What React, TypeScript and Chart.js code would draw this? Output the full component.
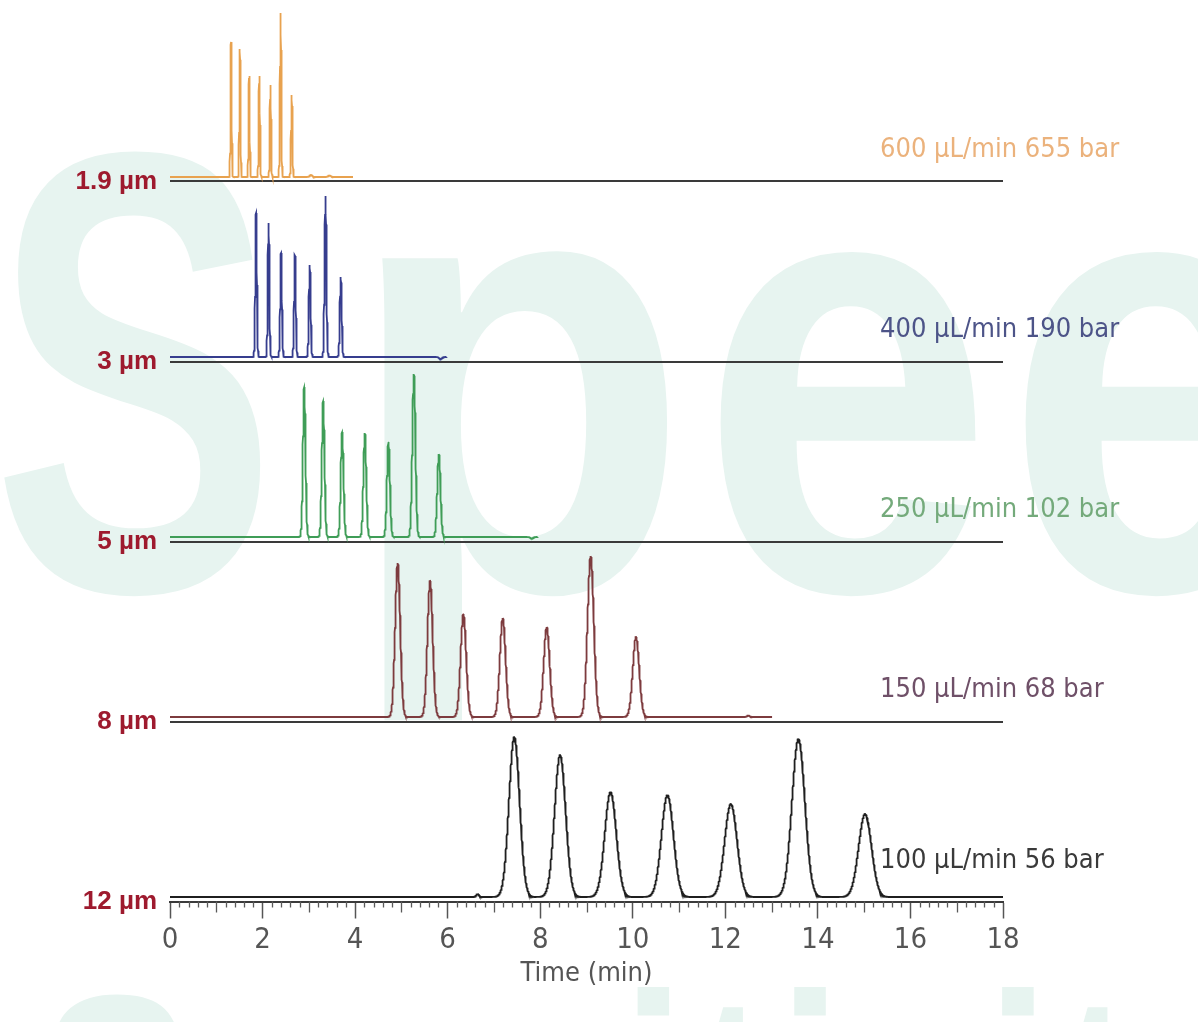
import React, { useEffect, useRef } from 'react';
import { Chart, registerables } from 'chart.js';

Chart.register(...registerables);

// Column particle size (left) and run conditions (right), top to bottom
const columnLabels = ['1.9 µm', '3 µm', '5 µm', '8 µm', '12 µm'];
const conditionLabels = [
  '600 µL/min 655 bar',
  '400 µL/min 190 bar',
  '250 µL/min 102 bar',
  '150 µL/min 68 bar',
  '100 µL/min 56 bar',
];
const traceColors = ['#e8a24f', '#363d8e', '#3f9d57', '#7d3b3e', '#1f1f1f'];
const conditionColors = ['#ebb27c', '#4d5488', '#74aa7b', '#6f5068', '#3a3a3a'];

// Run length of each chromatogram (min)
const runEnd = [3.96, 5.98, 7.95, 13.03, 18];

// Retention times (min), peak heights (signal units) and peak sigma (min)
const retention19 = [1.32, 1.51, 1.71, 1.93, 2.17, 2.39, 2.63];
const height19 = [135, 128, 101, 101, 92, 164, 82];
const sigma19 = [0.012, 0.012, 0.012, 0.013, 0.013, 0.014, 0.014];

const retention3 = [1.86, 2.13, 2.4, 2.7, 3.02, 3.36, 3.69];
const height3 = [144, 134, 104, 102, 92, 161, 80];
const sigma3 = [0.017, 0.017, 0.018, 0.018, 0.019, 0.02, 0.02];

const retention5 = [2.9, 3.31, 3.72, 4.21, 4.72, 5.27, 5.81];
const height5 = [150, 136, 105, 104, 95, 163, 83];
const sigma5 = [0.028, 0.029, 0.03, 0.031, 0.032, 0.034, 0.035];

const retention8 = [4.92, 5.62, 6.34, 7.19, 8.14, 9.09, 10.07];
const height8 = [154, 136, 103, 99, 90, 161, 80];
const sigma8 = [0.055, 0.057, 0.06, 0.062, 0.065, 0.068, 0.07];

const retention12 = [7.44, 8.43, 9.52, 10.75, 12.12, 13.58, 15.02];
const height12 = [160, 142, 105, 102, 93, 158, 83];
const sigma12 = [0.115, 0.12, 0.125, 0.13, 0.135, 0.14, 0.14];

// Small baseline disturbances per run: time (min) and height
const minorTime = [[3.05, 3.45], [5.85], [7.82], [12.5], [6.65]];
const minorHeight = [[2, 1.5], [-2], [-1.5], [1.5], [3]];

const retentionSets = [retention19, retention3, retention5, retention8, retention12];
const heightSets = [height19, height3, height5, height8, height12];
const sigmaSets = [sigma19, sigma3, sigma5, sigma8, sigma12];

const PANEL = 180; // vertical spacing between stacked runs
const TRACE_LIFT = 4.5; // trace baseline sits just above its separator line
const separators = columnLabels.map((_, i) => (columnLabels.length - 1 - i) * PANEL);

const CONDENSED = '"Liberation Sans Narrow", "DejaVu Sans Condensed", "Liberation Sans", sans-serif';

function buildTrace(i: number) {
  const rt = retentionSets[i];
  const h = heightSets[i];
  const sd = sigmaSets[i];
  const base = separators[i] + TRACE_LIFT;
  const step = 0.0025;
  const pts: { x: number; y: number }[] = [];
  const n = Math.round(runEnd[i] / step);
  for (let k = 0; k <= n; k++) {
    const t = k * step;
    let v = base;
    for (let j = 0; j < rt.length; j++) {
      const d = (t - rt[j]) / sd[j];
      if (Math.abs(d) < 8) v += h[j] * Math.exp(-0.5 * d * d);
    }
    for (let j = 0; j < minorTime[i].length; j++) {
      const d = (t - minorTime[i][j]) / 0.03;
      if (Math.abs(d) < 8) v += minorHeight[i][j] * Math.exp(-0.5 * d * d);
    }
    pts.push({ x: t, y: v });
  }
  return pts;
}

// Faint brand lettering behind the plot
const watermark = {
  id: 'watermark',
  beforeDraw(chart: any) {
    const { ctx, width, height } = chart;
    ctx.save();
    ctx.fillStyle = '#ffffff';
    ctx.fillRect(0, 0, width, height);
    ctx.fillStyle = '#e7f4f0';
    ctx.textAlign = 'left';
    ctx.textBaseline = 'alphabetic';
    ctx.font = `bold 628px "Liberation Sans", sans-serif`;
    const letters = ['S', 'p', 'e', 'e', 'd'];
    const starts = [-8, 345, 700, 1005, 1310];
    const squeeze = [0.68, 0.9, 0.84, 0.84, 0.84];
    letters.forEach((ch, k) => {
      ctx.save();
      ctx.translate(starts[k], 590);
      ctx.scale(squeeze[k], 1);
      ctx.fillText(ch, 0, 0);
      ctx.restore();
    });
    ctx.font = `bold 280px "Liberation Sans", sans-serif`;
    (ctx as any).letterSpacing = '10px';
    ctx.save();
    ctx.translate(40, 1190);
    ctx.scale(0.82, 1);
    ctx.fillText('Sensitivity', 0, 0);
    ctx.restore();
    ctx.restore();
  },
};

const conditions = {
  id: 'conditions',
  afterDatasetsDraw(chart: any) {
    const { ctx, chartArea } = chart;
    const yScale = chart.scales.y;
    ctx.save();
    ctx.font = `27px ${CONDENSED}`;
    ctx.textAlign = 'left';
    ctx.textBaseline = 'middle';
    conditionLabels.forEach((label, i) => {
      const lift = i === conditionLabels.length - 1 ? 41 : 32;
      ctx.fillStyle = conditionColors[i];
      ctx.fillText(label, chartArea.right - 123, yScale.getPixelForValue(separators[i]) - lift);
    });
    ctx.restore();
  },
};

const minorTicks = {
  id: 'minorTicks',
  afterDraw(chart: any) {
    const { ctx } = chart;
    const xs = chart.scales.x;
    ctx.save();
    ctx.strokeStyle = '#5a5a5a';
    ctx.lineWidth = 1.3;
    for (let k = 0; k <= 90; k++) {
      if (k % 10 === 0) continue;
      const v = k * 0.2;
      const len = k % 5 === 0 ? 11 : 6;
      const px = Math.round(xs.getPixelForValue(v)) + 0.5;
      ctx.beginPath();
      ctx.moveTo(px, xs.top);
      ctx.lineTo(px, xs.top + len);
      ctx.stroke();
    }
    ctx.restore();
  },
};

function ChromatogramStack() {
  const canvasRef = useRef<HTMLCanvasElement | null>(null);

  useEffect(() => {
    if (!canvasRef.current) return;
    const datasets = columnLabels.map((label, i) => ({
      label,
      data: buildTrace(i),
      borderColor: traceColors[i],
      borderWidth: 1.8,
      pointRadius: 0,
      tension: 0,
      fill: false,
    }));

    const chart = new Chart(canvasRef.current, {
      type: 'line',
      data: { datasets },
      plugins: [watermark, conditions, minorTicks],
      options: {
        animation: false,
        responsive: false,
        parsing: false,
        normalized: true,
        layout: { padding: { top: 1.5, right: 195, bottom: 0, left: 0 } },
        plugins: { legend: { display: false }, tooltip: { enabled: false } },
        scales: {
          x: {
            type: 'linear',
            min: 0,
            max: 18,
            afterFit: (s: any) => {
              s.height = 120.5;
              s.paddingLeft = 0;
              s.paddingRight = 0;
            },
            ticks: {
              stepSize: 2,
              autoSkip: false,
              maxRotation: 0,
              color: '#555555',
              padding: 7.5,
              font: { family: CONDENSED, size: 29, lineHeight: 1 },
            },
            grid: {
              drawOnChartArea: false,
              drawTicks: true,
              tickLength: 17,
              tickColor: '#555555',
              tickWidth: 1.5,
            },
            border: { display: true, color: '#3a3a3a', width: 2 },
            title: {
              display: true,
              text: 'Time (min)',
              color: '#555555',
              font: { family: CONDENSED, size: 27, lineHeight: 1 },
              padding: { top: 0, bottom: 35 },
            },
          },
          y: {
            type: 'linear',
            min: 0,
            max: PANEL * columnLabels.length,
            afterFit: (s: any) => {
              s.width = 170;
              s.paddingTop = 0;
              s.paddingBottom = 0;
            },
            afterBuildTicks: (s: any) => {
              s.ticks = separators.map((value) => ({ value }));
            },
            ticks: {
              callback: (value: any) => {
                const idx = separators.indexOf(Number(value));
                return idx >= 0 ? columnLabels[idx] : '';
              },
              color: '#9e1a2e',
              padding: 13,
              font: { family: '"Liberation Sans", Arial, sans-serif', weight: 'bold', size: 26 },
            },
            grid: { drawTicks: false, color: '#3a3a3a', lineWidth: 2 },
            border: { display: false },
          },
        },
      } as any,
    });

    return () => chart.destroy();
  }, []);

  return (
    <div style={{ position: 'fixed', left: 0, top: 0, width: 1198, height: 1022, background: '#ffffff' }}>
      <canvas ref={canvasRef} width={1198} height={1022} style={{ width: 1198, height: 1022, display: 'block' }} />
    </div>
  );
}

export default function App() {
  return <ChromatogramStack />;
}
